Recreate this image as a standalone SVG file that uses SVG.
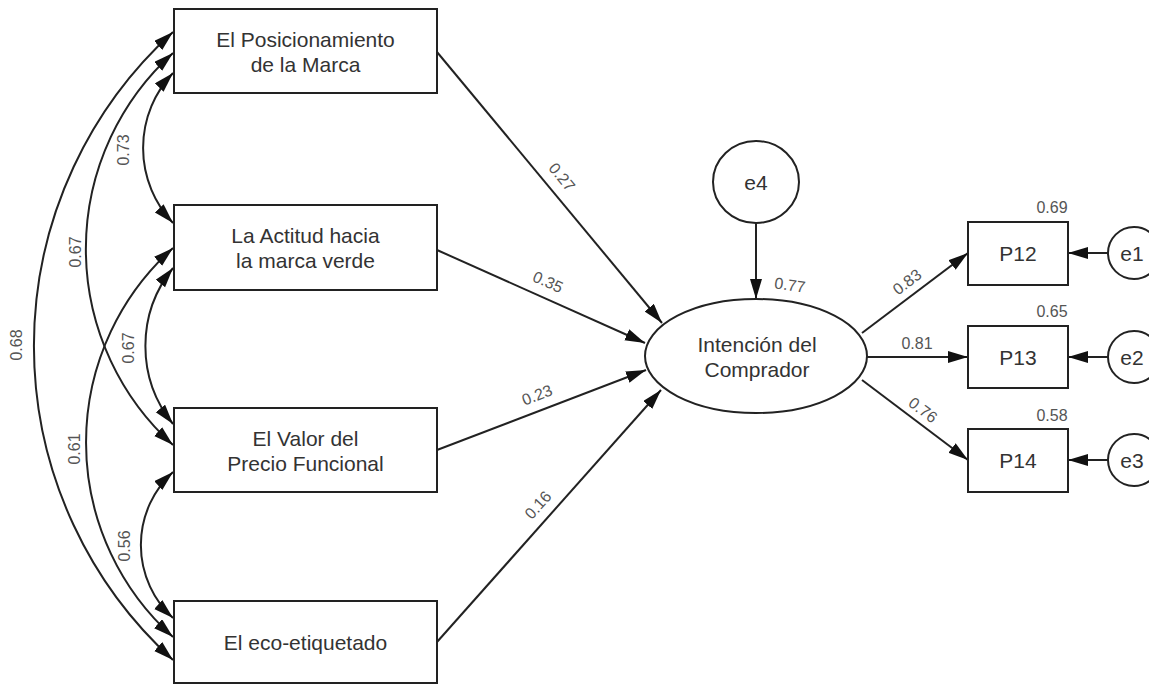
<svg xmlns="http://www.w3.org/2000/svg" width="1149" height="685" viewBox="0 0 1149 685">
<defs>
<style>
.n{fill:#fff;stroke:#222;stroke-width:2}
.t{font-family:"Liberation Sans",Arial,sans-serif;font-size:21px;fill:#333;text-anchor:middle}
.l{font-family:"Liberation Sans",Arial,sans-serif;font-size:16px;fill:#555;text-anchor:middle;dominant-baseline:central}
.c{fill:none;stroke:#222;stroke-width:2}
.a{marker-end:url(#ah)}
.b{marker-start:url(#ah);marker-end:url(#ah)}
</style>
<marker id="ah" markerUnits="userSpaceOnUse" markerWidth="22" markerHeight="14" refX="20" refY="6" orient="auto-start-reverse">
<path d="M0,0 L20,6 L0,12 z" fill="#111"/>
</marker>
</defs>
<rect width="1149" height="685" fill="#fff"/>
<g id="connectors">
<path class="c b" d="M173,73 A109,109 0 0 0 173,223"/>
<path class="c b" d="M173,268 A124,124 0 0 0 173,424"/>
<path class="c b" d="M173,472 A99,99 0 0 0 173,618"/>
<path class="c b" d="M173,53 A264,264 0 0 0 173,445"/>
<path class="c b" d="M173,32 A424,424 0 0 0 173,660"/>
<path class="c b" d="M173,248 A261,261 0 0 0 173,637"/>
<path class="c a" d="M437,52 L662,323"/>
<path class="c a" d="M437,250 L645,343"/>
<path class="c a" d="M437,450 L646,370"/>
<path class="c a" d="M437,642 L661,390"/>
<path class="c a" d="M756,223 L756,299"/>
<path class="c a" d="M862,333 L968,253"/>
<path class="c a" d="M867,357 L968,357"/>
<path class="c a" d="M862,380 L968,460"/>
<path class="c a" d="M1108,253 L1068,253"/>
<path class="c a" d="M1108,357 L1068,357"/>
<path class="c a" d="M1108,460 L1068,460"/>
<text class="l" transform="translate(123,150) rotate(-90)">0.73</text>
<text class="l" transform="translate(128,348) rotate(-90)">0.67</text>
<text class="l" transform="translate(124,546) rotate(-90)">0.56</text>
<text class="l" transform="translate(75,252) rotate(-90)">0.67</text>
<text class="l" transform="translate(16,345) rotate(-90)">0.68</text>
<text class="l" transform="translate(74,449) rotate(-90)">0.61</text>
<text class="l" transform="translate(562,177) rotate(50.5)">0.27</text>
<text class="l" transform="translate(548,282) rotate(24)">0.35</text>
<text class="l" transform="translate(537,395) rotate(-21)">0.23</text>
<text class="l" transform="translate(538,505) rotate(-48)">0.16</text>
<text class="l" transform="translate(790,285) rotate(8)">0.77</text>
<text class="l" transform="translate(907,282) rotate(-37)">0.83</text>
<text class="l" x="917" y="343">0.81</text>
<text class="l" transform="translate(923,410) rotate(37)">0.76</text>
</g>
<g id="n1"><rect class="n" x="174" y="9" width="263" height="84"/><text class="t" x="305.5" y="47">El Posicionamiento</text><text class="t" x="305.5" y="72">de la Marca</text></g>
<g id="n2"><rect class="n" x="174" y="205" width="263" height="85"/><text class="t" x="305.5" y="243">La Actitud hacia</text><text class="t" x="305.5" y="268">la marca verde</text></g>
<g id="n3"><rect class="n" x="174" y="408" width="263" height="84"/><text class="t" x="305.5" y="446">El Valor del</text><text class="t" x="305.5" y="471">Precio Funcional</text></g>
<g id="n4"><rect class="n" x="174" y="601" width="263" height="82"/><text class="t" x="305.5" y="650">El eco-etiquetado</text></g>
<g id="n5"><ellipse class="n" cx="756" cy="356" rx="111" ry="57"/><text class="t" x="757" y="352">Intención del</text><text class="t" x="757" y="377">Comprador</text></g>
<g id="e4"><ellipse class="n" cx="756" cy="182" rx="43" ry="41"/><text class="t" x="756" y="190">e4</text></g>
<g id="p12"><rect class="n" x="968" y="222" width="100" height="63"/><text class="t" x="1018" y="261">P12</text><text class="l" x="1052" y="207">0.69</text></g>
<g id="p13"><rect class="n" x="968" y="326" width="100" height="62"/><text class="t" x="1018" y="365">P13</text><text class="l" x="1052" y="311">0.65</text></g>
<g id="p14"><rect class="n" x="968" y="429" width="100" height="63"/><text class="t" x="1018" y="468">P14</text><text class="l" x="1052" y="415">0.58</text></g>
<g id="e1"><circle class="n" cx="1134" cy="253" r="26"/><text class="t" x="1132" y="261">e1</text></g>
<g id="e2"><circle class="n" cx="1134" cy="357" r="26"/><text class="t" x="1132" y="365">e2</text></g>
<g id="e3"><circle class="n" cx="1134" cy="460" r="26"/><text class="t" x="1132" y="468">e3</text></g>
</svg>
